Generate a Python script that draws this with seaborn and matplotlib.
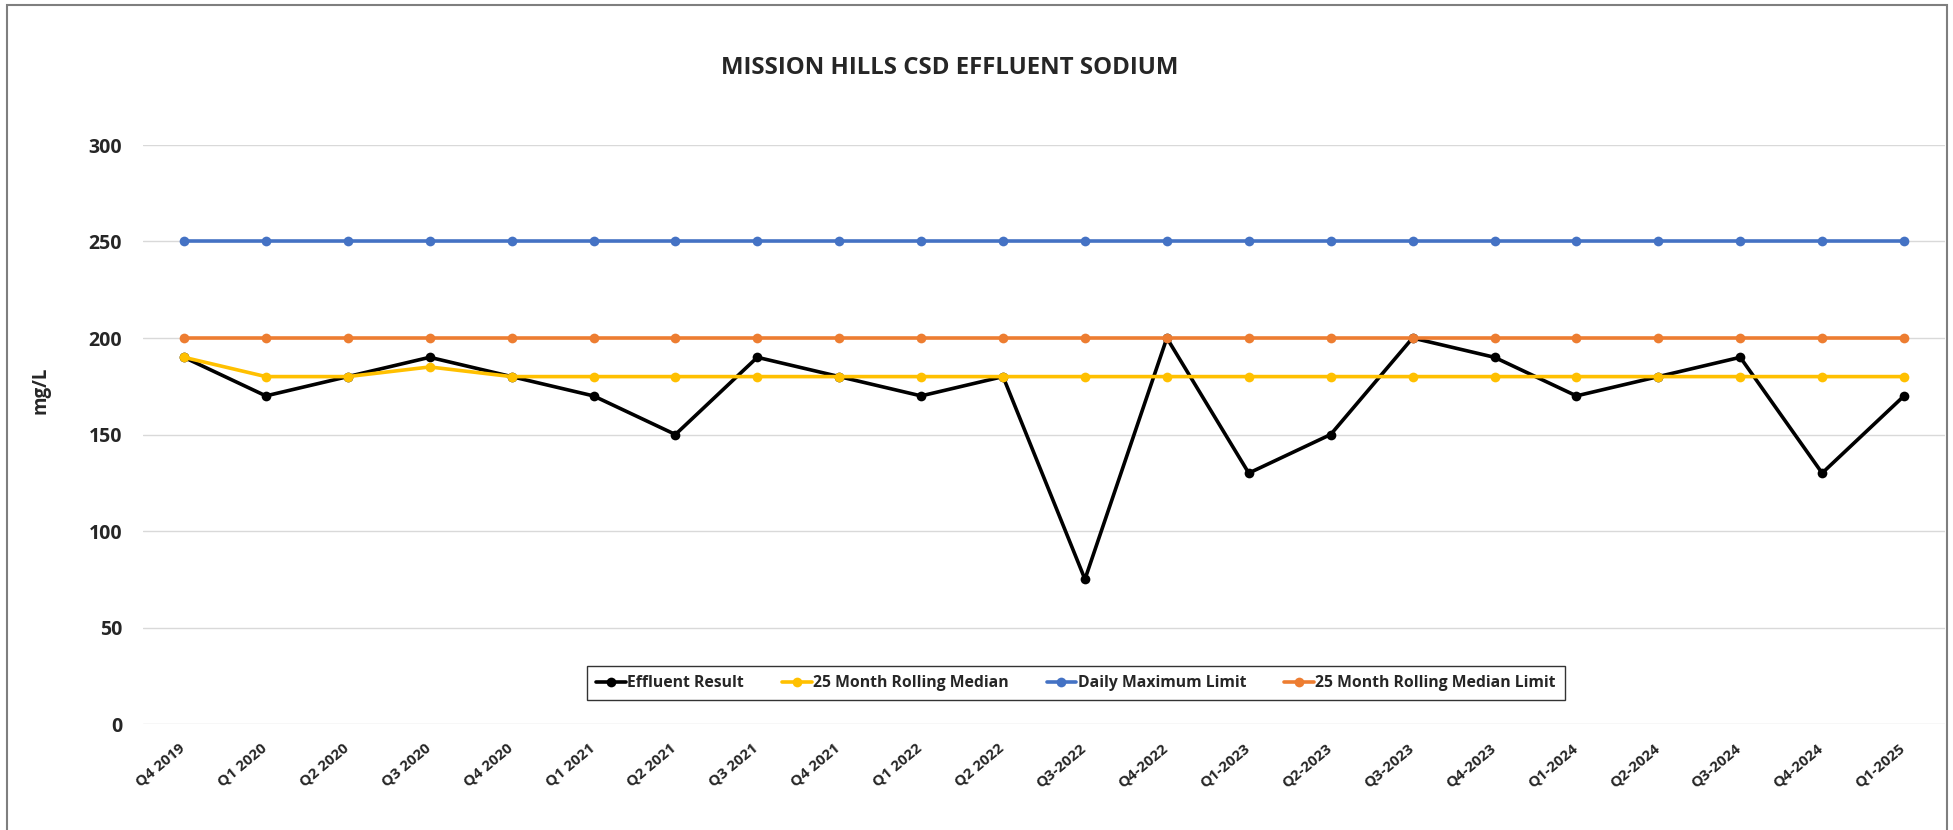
import seaborn as sns
import matplotlib.pyplot as plt
import matplotlib.transforms as mtransforms
from matplotlib.patches import Rectangle
import pandas as pd

# data
quarters = ['Q4 2019', 'Q1 2020', 'Q2 2020', 'Q3 2020', 'Q4 2020', 'Q1 2021', 'Q2 2021',
            'Q3 2021', 'Q4 2021', 'Q1 2022', 'Q2 2022', 'Q3-2022', 'Q4-2022', 'Q1-2023',
            'Q2-2023', 'Q3-2023', 'Q4-2023', 'Q1-2024', 'Q2-2024', 'Q3-2024', 'Q4-2024', 'Q1-2025']
effluent = [190, 170, 180, 190, 180, 170, 150, 190, 180, 170, 180, 75, 200, 130,
            150, 200, 190, 170, 180, 190, 130, 170]
rolling_median = [190, 180, 180, 185, 180, 180, 180, 180, 180, 180, 180, 180, 180, 180,
                  180, 180, 180, 180, 180, 180, 180, 180]
daily_max_limit = [250] * 22
median_limit = [200] * 22

series_names = ['Effluent Result', '25 Month Rolling Median',
                'Daily Maximum Limit', '25 Month Rolling Median Limit']
colors = ['#000000', '#FFC000', '#4472C4', '#ED7D31']

frames = []
for name, vals in zip(series_names, [effluent, rolling_median, daily_max_limit, median_limit]):
    frames.append(pd.DataFrame({'pos': range(len(quarters)), 'value': vals, 'series': name}))
df = pd.concat(frames, ignore_index=True)

sns.set_style('white')
plt.rcParams['font.family'] = ['Open Sans', 'DejaVu Sans']

fig = plt.figure(figsize=(19.53, 8.30), dpi=100)
ax = fig.add_axes([143 / 1953, 1 - 724 / 830, (1945 - 143) / 1953, (724 - 145) / 830])

sns.lineplot(data=df, x='pos', y='value', hue='series', hue_order=series_names,
             palette=colors, marker='o', markersize=7, markeredgewidth=0,
             linewidth=2.6, estimator=None, sort=False, legend=False, ax=ax)
for line in ax.lines:
    line.set_clip_on(False)

ax.set_xlim(-0.5, len(quarters) - 0.5)
ax.set_ylim(0, 300)
ax.set_yticks([0, 50, 100, 150, 200, 250, 300])
ax.yaxis.grid(True, color='#D9D9D9', linewidth=1)
ax.xaxis.grid(False)
for s in ax.spines.values():
    s.set_visible(False)
ax.set_axisbelow(True)

ax.tick_params(axis='y', length=0, pad=15, labelsize=14)
for lab in ax.get_yticklabels():
    lab.set_fontweight('bold')

ax.set_xticks(range(len(quarters)))
ax.set_xticklabels(quarters, rotation=40, ha='right', va='center',
                   rotation_mode='anchor', fontsize=10.8, fontweight='bold')
ax.tick_params(axis='x', length=0, pad=16)
offset = mtransforms.ScaledTranslation(-1 / 100, 0, fig.dpi_scale_trans)
for lab in ax.get_xticklabels():
    lab.set_transform(lab.get_transform() + offset)

ax.set_xlabel('')
ax.set_ylabel('mg/L', fontsize=13.5, fontweight='bold')
ax.yaxis.set_label_coords(-0.0516, 0.577)

fig.text(950 / 1953, 1 - 68 / 830, 'MISSION HILLS CSD EFFLUENT SODIUM',
         ha='center', va='center', fontsize=17.3, fontweight='bold')

handles = ax.lines[:4]
leg = fig.legend(handles, series_names, loc='center', bbox_to_anchor=(1076 / 1953, 1 - 683 / 830),
                 ncol=4, frameon=True, fancybox=False, edgecolor='black',
                 handlelength=1.9, handletextpad=0.1, columnspacing=2.4,
                 prop={'weight': 'bold', 'size': 11.3}, borderpad=0.55)
leg.get_frame().set_linewidth(1)

# outer chart border
fig.patches.append(Rectangle((7 / 1953, -0.1), (1947 - 7) / 1953, 1.1 - 5 / 830,
                             transform=fig.transFigure, fill=False,
                             edgecolor='#7F7F7F', linewidth=1.5))

plt.savefig('out.png', dpi=100)
